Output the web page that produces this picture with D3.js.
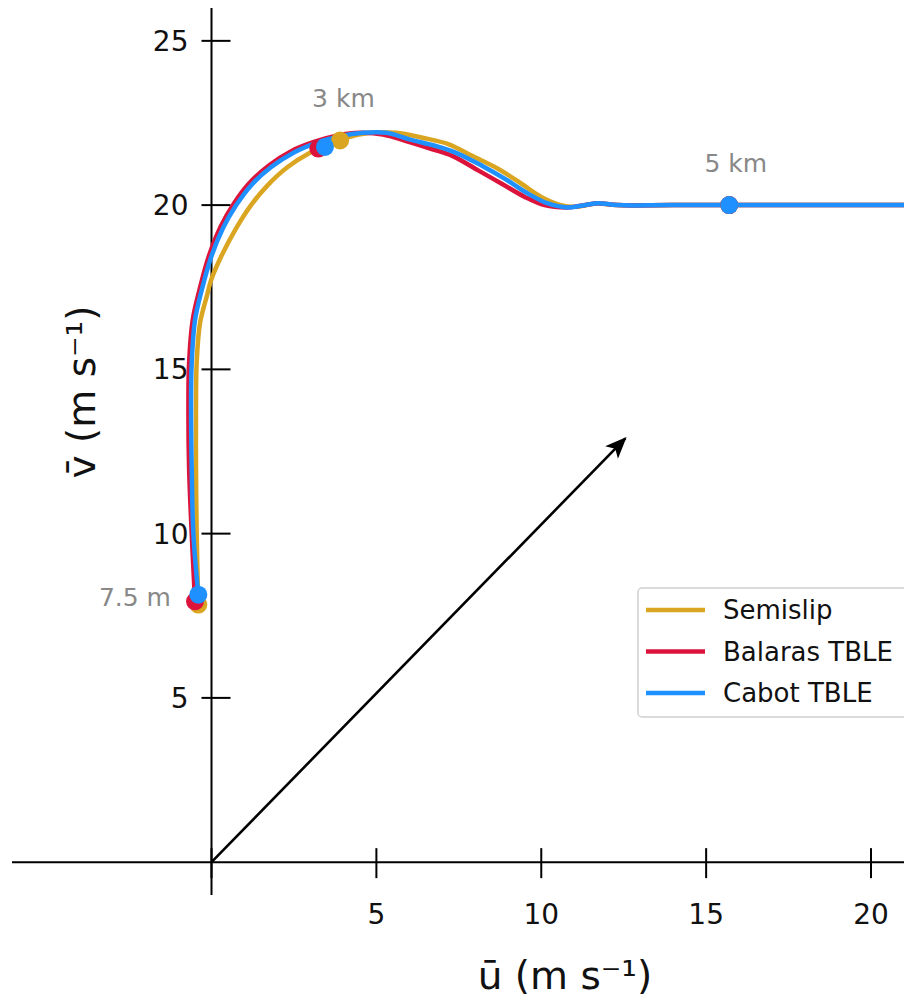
<!DOCTYPE html>
<html>
<head>
<meta charset="utf-8">
<script src="https://cdn.jsdelivr.net/npm/d3@7"></script>
<style>
  html, body { margin: 0; padding: 0; background: #fff; }
  svg { display: block; font-family: "DejaVu Sans", sans-serif; }
</style>
</head>
<body>
<div id="chart"></div>
<script>
// Hodograph points: [u, v] in m/s
const semislip = [
  [-0.4, 7.84], [-0.45, 10], [-0.47, 12], [-0.47, 14], [-0.45, 15.2], [-0.35, 16.4],
  [-0.15, 17.2], [0.0, 17.75], [0.3, 18.45], [0.75, 19.3], [1.2, 20.0], [1.7, 20.6],
  [2.3, 21.15], [3.0, 21.6], [3.9, 22.0], [4.8, 22.2], [5.6, 22.2], [6.4, 22.05],
  [7.2, 21.85], [7.9, 21.5], [8.7, 21.1], [9.4, 20.65], [10.0, 20.25], [10.6, 20.0],
  [11.0, 19.95], [11.7, 20.05], [12.3, 20.0], [14, 20.0], [17, 20.0], [21.5, 20.0]
];
const balaras = [
  [-0.5, 7.94], [-0.6, 10], [-0.68, 12], [-0.7, 14], [-0.68, 15.2], [-0.57, 16.5],
  [-0.37, 17.4], [-0.08, 18.45], [0.28, 19.35], [0.68, 20.05], [1.13, 20.65], [1.73, 21.2],
  [2.43, 21.65], [3.13, 21.93], [3.83, 22.12], [4.5, 22.2], [5.2, 22.15], [5.9, 21.95],
  [6.7, 21.7], [7.3, 21.5], [8.1, 21.05], [8.8, 20.65], [9.5, 20.25], [10.1, 20.0],
  [10.8, 19.93], [11.2, 19.98], [11.7, 20.06], [12.3, 20.0], [14, 20.0], [17, 20.0], [21.5, 20.0]
];
const cabot = [
  [-0.4, 8.14], [-0.55, 10], [-0.6, 12], [-0.62, 14], [-0.6, 15.2], [-0.5, 16.5],
  [-0.3, 17.4], [0.0, 18.45], [0.35, 19.3], [0.75, 20.0], [1.2, 20.6], [1.8, 21.15],
  [2.5, 21.6], [3.2, 21.9], [3.9, 22.1], [4.6, 22.2], [5.3, 22.2], [6.0, 22.0],
  [6.8, 21.8], [7.4, 21.6], [8.2, 21.2], [8.9, 20.8], [9.6, 20.35], [10.2, 20.05],
  [10.8, 19.93], [11.2, 19.98], [11.7, 20.06], [12.3, 20.0], [14, 20.0], [17, 20.0], [21.5, 20.0]
];

// height markers per series: 7.5 m, 3 km, 5 km
const semislipMarks = [[-0.4, 7.84], [3.9, 21.97], [15.7, 20.0]];
const balarasMarks = [[-0.5, 7.94], [3.24, 21.72], [15.7, 20.0]];
const cabotMarks = [[-0.4, 8.14], [3.44, 21.77], [15.7, 20.0]];

const seriesNames = ["Semislip", "Balaras TBLE", "Cabot TBLE"];
const seriesColors = ["#DAA520", "#DC143C", "#1E90FF"];

const heightLabels = [
  { text: "7.5 m", u: -1.23, v: 7.8, anchor: "end" },
  { text: "3 km", u: 4.0, v: 23.0, anchor: "middle" },
  { text: "5 km", u: 15.9, v: 21.0, anchor: "middle" }
];

const xTicks = [0, 5, 10, 15, 20];
const yTicks = [5, 10, 15, 20, 25];
const arrowTip = [12.55, 12.9];

const W = 904, H = 1001;

const svg = d3.select("#chart").append("svg")
  .attr("width", W).attr("height", H);

const x = d3.scaleLinear().domain([-6.05, 21]).range([12, 904]);
const y = d3.scaleLinear().domain([-1, 26]).range([895, 8]);

// arrow head
svg.append("defs").append("marker")
  .attr("id", "head")
  .attr("viewBox", "0 0 12 10")
  .attr("refX", 11).attr("refY", 5)
  .attr("markerWidth", 22).attr("markerHeight", 18)
  .attr("markerUnits", "userSpaceOnUse")
  .attr("orient", "auto")
  .append("path").attr("d", "M0,0 L12,5 L0,10 L3,5 Z").attr("fill", "#000");

// spines through the origin
svg.append("line")
  .attr("x1", x.range()[0]).attr("x2", x.range()[1])
  .attr("y1", y(0)).attr("y2", y(0))
  .attr("stroke", "#000").attr("stroke-width", 2);
svg.append("line")
  .attr("x1", x(0)).attr("x2", x(0))
  .attr("y1", y.range()[1]).attr("y2", y.range()[0])
  .attr("stroke", "#000").attr("stroke-width", 2);

// x ticks
svg.append("g").selectAll("line").data(xTicks).join("line")
  .attr("x1", d => x(d)).attr("x2", d => x(d))
  .attr("y1", y(0) - 14).attr("y2", y(0) + 16)
  .attr("stroke", "#000").attr("stroke-width", 2);
svg.append("g").selectAll("text").data(xTicks.filter(d => d !== 0)).join("text")
  .attr("x", d => x(d)).attr("y", y(0) + 62)
  .attr("text-anchor", "middle")
  .style("font-size", "28px").style("fill", "#111")
  .text(d => d);

// y ticks
svg.append("g").selectAll("line").data(yTicks).join("line")
  .attr("x1", x(0) - 10).attr("x2", x(0) + 19)
  .attr("y1", d => y(d)).attr("y2", d => y(d))
  .attr("stroke", "#000").attr("stroke-width", 2);
svg.append("g").selectAll("text").data(yTicks).join("text")
  .attr("x", x(0) - 23).attr("y", d => y(d) + 10)
  .attr("text-anchor", "end")
  .style("font-size", "28px").style("fill", "#111")
  .text(d => d);

// axis titles
svg.append("text")
  .attr("x", 565).attr("y", 989)
  .attr("text-anchor", "middle")
  .style("font-size", "39px").style("fill", "#111")
  .text("ū (m s⁻¹)");
svg.append("text")
  .attr("transform", "translate(95,392) rotate(-90)")
  .attr("text-anchor", "middle")
  .style("font-size", "39px").style("fill", "#111")
  .text("v̄ (m s⁻¹)");

// wind arrow from origin
svg.append("line")
  .attr("x1", x(0)).attr("y1", y(0))
  .attr("x2", x(arrowTip[0])).attr("y2", y(arrowTip[1]))
  .attr("stroke", "#000").attr("stroke-width", 2.6)
  .attr("marker-end", "url(#head)");

// curves and markers
const line = d3.line()
  .x(d => x(d[0])).y(d => y(d[1]))
  .curve(d3.curveCatmullRom.alpha(0.5));

const allSeries = [semislip, balaras, cabot];
const allMarks = [semislipMarks, balarasMarks, cabotMarks];

allSeries.forEach((pts, i) => {
  svg.append("path")
    .datum(pts)
    .attr("d", line)
    .attr("fill", "none")
    .attr("stroke", seriesColors[i])
    .attr("stroke-width", 4.5)
    .attr("stroke-linejoin", "round");
});
allMarks.forEach((pts, i) => {
  svg.append("g").selectAll("circle").data(pts).join("circle")
    .attr("cx", d => x(d[0])).attr("cy", d => y(d[1]))
    .attr("r", 9)
    .attr("fill", seriesColors[i]);
});

// height annotations
svg.append("g").selectAll("text").data(heightLabels).join("text")
  .attr("x", d => x(d.u)).attr("y", d => y(d.v))
  .attr("text-anchor", d => d.anchor)
  .style("font-size", "25px").style("fill", "#888")
  .text(d => d.text);

// legend
const lg = svg.append("g").attr("transform", "translate(638,588)");
lg.append("rect")
  .attr("width", 290).attr("height", 129).attr("rx", 4)
  .attr("fill", "#fff").attr("fill-opacity", 0.85)
  .attr("stroke", "#d0d0d0").attr("stroke-width", 1.5);
seriesNames.forEach((name, i) => {
  const yy = 22 + i * 41.5;
  lg.append("line")
    .attr("x1", 8).attr("x2", 67).attr("y1", yy).attr("y2", yy)
    .attr("stroke", seriesColors[i]).attr("stroke-width", 4.5);
  lg.append("text")
    .attr("x", 85).attr("y", yy + 9)
    .style("font-size", "26px").style("fill", "#111")
    .text(name);
});
</script>
</body>
</html>
